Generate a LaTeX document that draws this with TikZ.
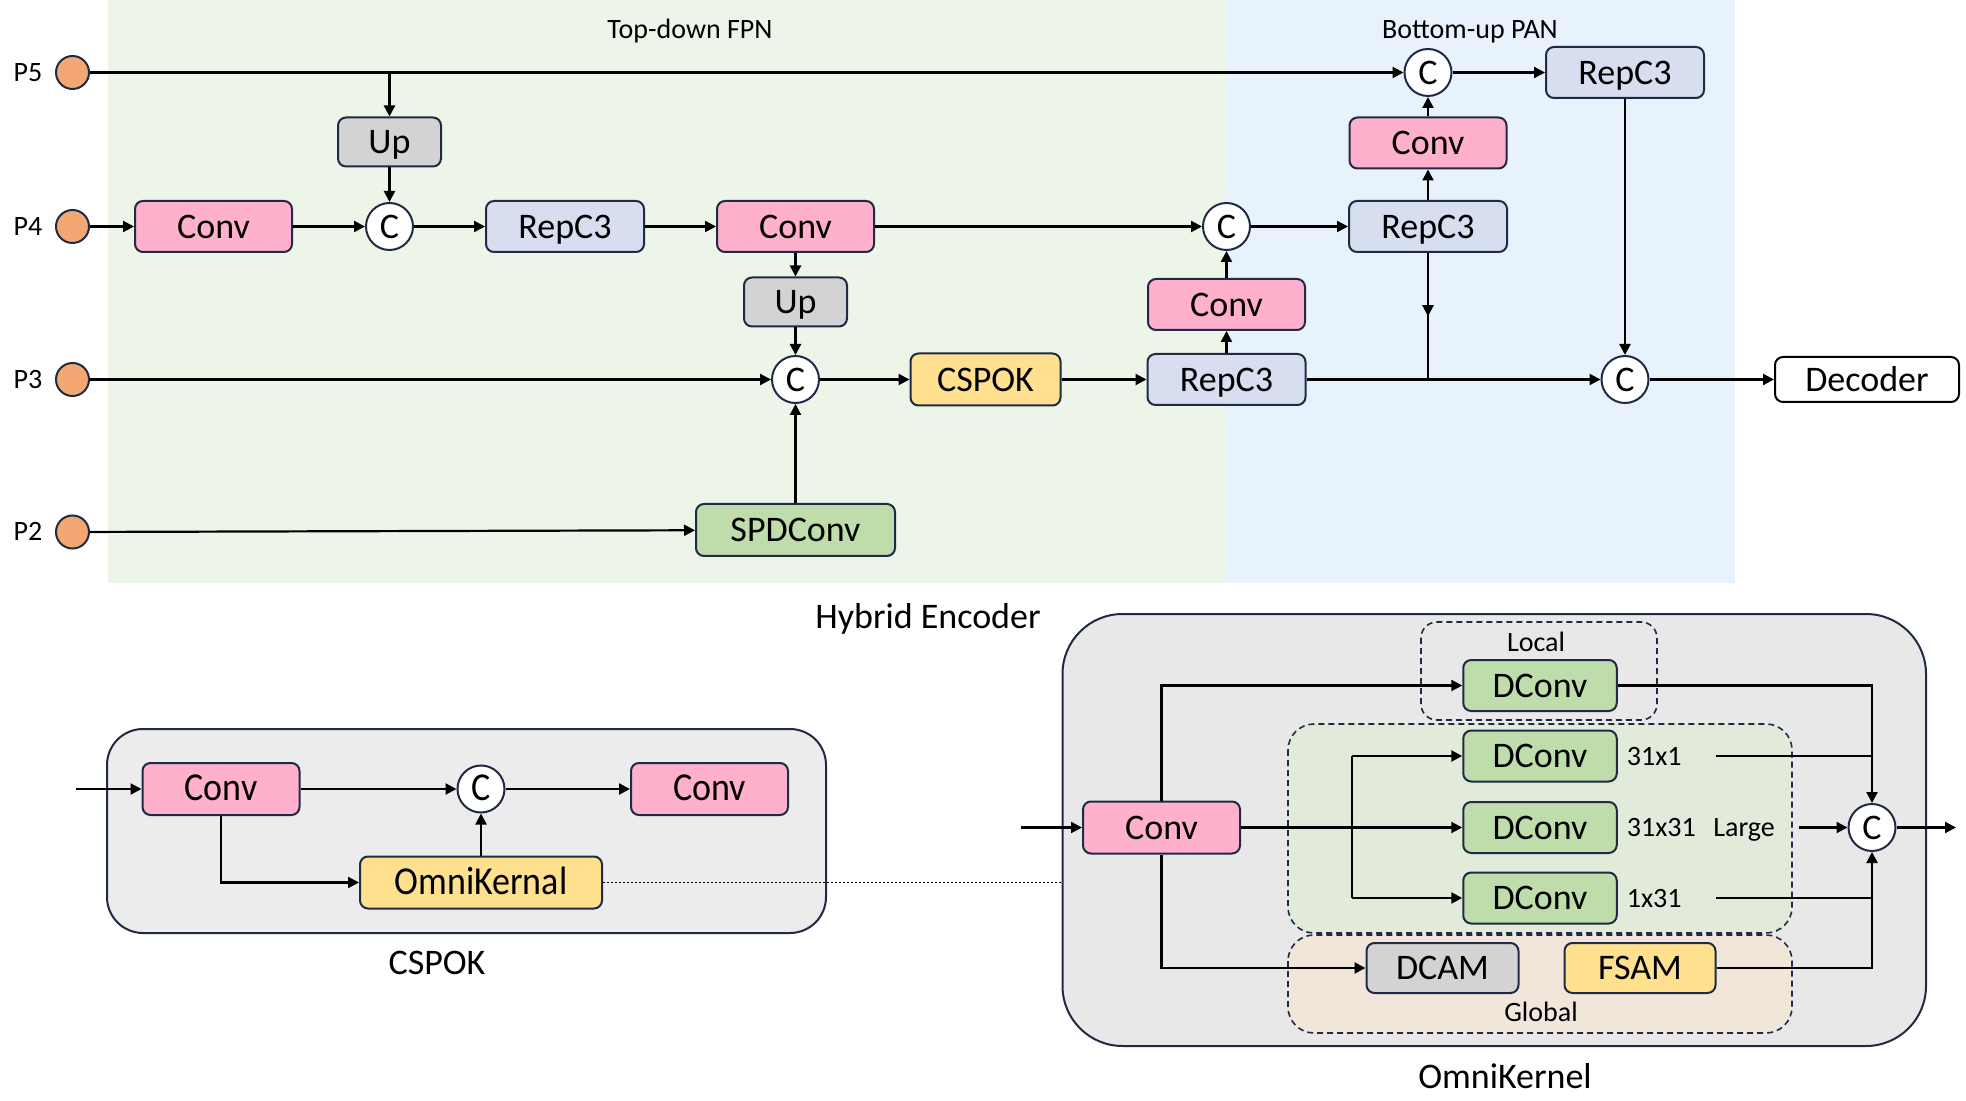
\documentclass[tikz,border=0pt]{standalone}
\usepackage{fontspec}
\setmainfont{Carlito}
\usetikzlibrary{arrows.meta,decorations.markings,calc}
\definecolor{navy}{HTML}{1F2A44}
\definecolor{bggreen}{HTML}{EDF5E9}
\definecolor{bgblue}{HTML}{E8F2FC}
\definecolor{pinkc}{HTML}{FFB0CC}
\definecolor{lavc}{HTML}{D6DEF0}
\definecolor{grayc}{HTML}{D3D3D3}
\definecolor{yelc}{HTML}{FFE08F}
\definecolor{grnc}{HTML}{BFDDAA}
\definecolor{orgc}{HTML}{F3A874}
\definecolor{panel}{HTML}{ECECEC}
\definecolor{panelo}{HTML}{E8E8E8}
\definecolor{largec}{HTML}{E2EADA}
\definecolor{globc}{HTML}{F2E6DB}
\newcommand{\vst}[1]{\scalebox{1}[1.1]{#1}}
\begin{document}
\begin{tikzpicture}[x=0.5pt,y=-0.5pt,
  bigt/.style={font=\fontsize{18}{20}\selectfont,inner sep=0pt,text height=11.6pt,text depth=0pt},
  small/.style={font=\fontsize{14}{16}\selectfont,inner sep=0pt,text height=9pt,text depth=0pt},
  blk/.style={draw=navy,line width=1pt,rounded corners=4pt,inner sep=0pt,bigt,minimum height=25.5pt},
  convb/.style={blk,fill=pinkc,minimum width=78.5pt},
  repb/.style={blk,fill=lavc,minimum width=79pt},
  upb/.style={blk,fill=grayc,minimum width=51.5pt,minimum height=24.5pt},
  yelb/.style={blk,fill=yelc},
  grnb/.style={blk,fill=grnc},
  decb/.style={blk,draw=black,fill=white,minimum width=92pt,minimum height=22.5pt},
  cc/.style={circle,draw=navy,line width=1pt,fill=white,minimum size=23.5pt,inner sep=0pt,bigt},
  pin/.style={circle,draw=navy,line width=1pt,fill=orgc,minimum size=16.5pt,inner sep=0pt},
  ln/.style={line width=1.1pt},
  arr/.style={ln,-{Triangle[length=5.5pt,width=5.5pt]}},
  midarr/.style={ln,postaction={decorate},decoration={markings,mark=at position 0.5 with {\arrow{Triangle[length=5.5pt,width=5.5pt]}}}},
  dsh/.style={draw=navy,line width=0.8pt,dash pattern=on 3pt off 2pt},
  pan/.style={draw=navy,line width=1pt,fill=panel,inner sep=0pt}
]
\useasboundingbox (0,0) rectangle (1966,1101);
\fill[white] (0,0) rectangle (1966,1101);
% backgrounds
\fill[bggreen] (108,0) rectangle (1225,583);
\fill[bgblue] (1225,0) rectangle (1735,583);
\node[small] (tfpn) at (690,30) {Top-down FPN};
\node[small] (tpan) at (1470,30) {Bottom-up PAN};
\node[bigt] (thyb) at (928,617) {Hybrid Encoder};
% inputs
\node[pin] (p5) at (72.5,72.5) {};
\node[pin] (p4) at (72.5,226.5) {};
\node[pin] (p3) at (72.5,379.5) {};
\node[pin] (p2) at (72.5,532) {};
\node[small] (lp5) at (28,72.5) {P5};
\node[small] (lp4) at (28,226.5) {P4};
\node[small] (lp3) at (28,379.5) {P3};
\node[small] (lp2) at (28,532) {P2};
% encoder blocks
\node[convb] (conv1) at (213.5,226.5) {Conv};
\node[upb] (up1) at (389.5,142) {Up};
\node[cc] (c1) at (389.5,226.5) {C};
\node[repb] (rep1) at (565,226.5) {RepC3};
\node[convb] (conv2) at (795.5,226.5) {Conv};
\node[upb] (up2) at (795.5,302) {Up};
\node[cc] (c2) at (795.5,379.5) {C};
\node[grnb,minimum width=99.5pt,minimum height=26pt] (spd) at (795.5,530) {SPDConv};
\node[yelb,minimum width=75pt,minimum height=26pt] (cspok) at (985.5,379.5) {CSPOK};
\node[repb] (rep2) at (1226.5,379.5) {RepC3};
\node[convb] (conv3) at (1226.5,304.5) {Conv};
\node[cc] (c3) at (1226.5,226.5) {C};
\node[repb] (rep3) at (1428,226.5) {RepC3};
\node[convb] (conv4) at (1428,143) {Conv};
\node[cc] (c4) at (1428,72.5) {C};
\node[repb] (rep4) at (1625,72.5) {RepC3};
\node[cc] (c5) at (1625,379.5) {C};
\node[decb] (dec) at (1867,379.5) {Decoder};
% encoder connectors
\coordinate (b1) at (389.5,72.5);
\coordinate (j1) at (1428,379.5);
\draw[arr] (p5) -- (c4);
\draw[arr] (b1) -- (up1);
\draw[arr] (up1) -- (c1);
\draw[arr] (p4) -- (conv1);
\draw[arr] (conv1) -- (c1);
\draw[arr] (c1) -- (rep1);
\draw[arr] (rep1) -- (conv2);
\draw[arr] (conv2) -- (c3);
\draw[arr] (conv2) -- (up2);
\draw[arr] (up2) -- (c2);
\draw[arr] (p3) -- (c2);
\draw[arr] (p2) -- (spd);
\draw[arr] (spd) -- (c2);
\draw[arr] (c2) -- (cspok);
\draw[arr] (cspok) -- (rep2);
\draw[arr] (rep2) -- (conv3);
\draw[arr] (conv3) -- (c3);
\draw[arr] (c3) -- (rep3);
\draw[arr] (rep3) -- (conv4);
\draw[arr] (conv4) -- (c4);
\draw[arr] (c4) -- (rep4);
\draw[arr] (rep4) -- (c5);
\draw[arr] (rep2) -- (c5);
\draw[arr] (c5) -- (dec);
\draw[midarr] (rep3.south) -- (j1);
% CSPOK panel
\node[pan,rounded corners=18pt,minimum width=359.5pt,minimum height=102pt] (cspanel) at (466.5,831) {};
\node[bigt] (lcspok) at (437,963) {CSPOK};
\node[convb,minimum height=26pt] (conv5) at (221,789) {\vst{Conv}};
\node[cc] (c6) at (481,789) {\vst{C}};
\node[convb,minimum height=26pt] (conv6) at (709.5,789) {\vst{Conv}};
\node[yelb,minimum width=121pt,minimum height=26pt] (ok) at (481,882.5) {\vst{OmniKernal}};
\coordinate (in1) at (76,789);
\draw[arr] (in1) -- (conv5);
\draw[arr] (conv5) -- (c6);
\draw[arr] (c6) -- (conv6);
\draw[arr] (conv5.south) |- (ok.west);
\draw[arr] (ok) -- (c6);
% OmniKernel panel
\node[pan,fill=panelo,rounded corners=30pt,minimum width=431.75pt,minimum height=216pt] (omni) at (1494.25,830) {};
\draw[line width=0.9pt,dash pattern=on 1pt off 1pt] (ok.east) -- (ok.east -| omni.west);
\draw[dsh,rounded corners=8pt] (1421,622) rectangle (1657,720);
\draw[dsh,fill=largec,rounded corners=13pt] (1288,724) rectangle (1792,933);
\draw[dsh,fill=globc,rounded corners=13pt] (1288,935) rectangle (1792,1033);
\node[small] (lloc) at (1536,642) {Local};
\node[small] (lglob) at (1541,1012) {Global};
\node[bigt] (lomni) at (1505,1077) {OmniKernel};
\node[convb,minimum height=26pt] (conv7) at (1161.5,827.5) {Conv};
\node[grnb,minimum width=76.75pt] (dloc) at (1540,685.5) {DConv};
\node[grnb,minimum width=76.75pt] (d1) at (1540,756) {DConv};
\node[grnb,minimum width=76.75pt] (d2) at (1540,827.5) {DConv};
\node[grnb,minimum width=76.75pt] (d3) at (1540,898) {DConv};
\node[blk,fill=grayc,minimum width=76pt,minimum height=25pt] (dcam) at (1442.5,968) {DCAM};
\node[yelb,minimum width=75.5pt,minimum height=25pt] (fsam) at (1640,968) {FSAM};
\node[cc] (c7) at (1872,827.5) {C};
\node[small,anchor=west] (l1) at (1626.5,756) {31x1};
\node[small,anchor=west] (l2) at (1626.5,827.5) {31x31};
\node[small,anchor=west] (l3) at (1713,827.5) {Large};
\node[small,anchor=west] (l4) at (1626.5,898) {1x31};
\coordinate (in2) at (1021,827.5);
\coordinate (br) at (1352,827.5);
\coordinate (s1) at (1716,756);
\coordinate (s2) at (1799,827.5);
\coordinate (s3) at (1716,898);
\coordinate (out) at (1956,827.5);
\draw[arr] (in2) -- (conv7);
\draw[arr] (conv7.north) |- (dloc.west);
\draw[arr] (conv7) -- (d2);
\draw[ln] (br |- d1) -- (br |- d3);
\draw[arr] (br |- d1) -- (d1.west);
\draw[arr] (br |- d3) -- (d3.west);
\draw[arr] (conv7.south) |- (dcam.west);
\draw[arr] (dloc.east) -| (c7.north);
\draw[ln] (s1) -- (s1 -| c7);
\draw[arr] (s2) -- (c7);
\draw[ln] (s3) -- (s3 -| c7);
\draw[arr] (fsam.east) -| (c7.south);
\draw[arr] (c7) -- (out);
\end{tikzpicture}
\end{document}
